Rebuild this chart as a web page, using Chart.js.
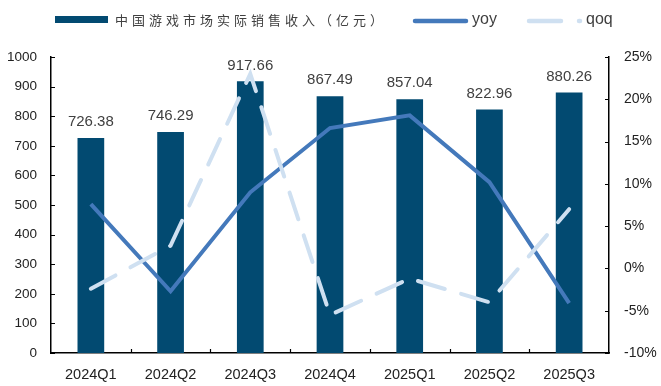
<!DOCTYPE html>
<html lang="zh-CN">
<head>
<meta charset="UTF-8">
<title>中国游戏市场实际销售收入</title>
<script src="https://cdn.jsdelivr.net/npm/chart.js"></script>
<style>
    html, body { margin: 0; padding: 0; background: #fff; }
    #wrap { width: 661px; height: 386px; }
</style>
</head>
<body>
<div id="wrap"><canvas id="chart" width="661" height="386"></canvas></div>
<script>
// data
const quarters = ['2024Q1', '2024Q2', '2024Q3', '2024Q4', '2025Q1', '2025Q2', '2025Q3'];
const revenue = [726.38, 746.29, 917.66, 867.49, 857.04, 822.96, 880.26];
const yoy = [7.6, -2.7, 9.0, 16.6, 18.1, 10.2, -4.1];
const qoq = [-2.4, 2.7, 23.0, -5.5, -1.2, -4.0, 7.0];
const leftTicks = [0, 100, 200, 300, 400, 500, 600, 700, 800, 900, 1000];
const rightTicks = [-10, -5, 0, 5, 10, 15, 20, 25];
const seriesNames = ['中国游戏市场实际销售收入（亿元）', 'yoy', 'qoq'];

const barColor = '#024a71';
const yoyColor = '#4479bb';
const qoqColor = '#cfe0f1';
const textColor = '#404040';

// value labels above the bars
const barLabels = {
    id: 'barLabels',
    afterDatasetsDraw(chart) {
        const ctx = chart.ctx;
        const meta = chart.getDatasetMeta(0);
        ctx.save();
        ctx.font = '15px "Liberation Sans", Arial, sans-serif';
        ctx.fillStyle = textColor;
        ctx.textAlign = 'center';
        ctx.textBaseline = 'middle';
        meta.data.forEach(function (bar, i) {
            ctx.fillText(revenue[i].toFixed(2), bar.x, bar.y - 16);
        });
        ctx.restore();
    }
};

// short inward tick marks on the three axes
const innerTicks = {
    id: 'innerTicks',
    afterDraw(chart) {
        const ctx = chart.ctx;
        const a = chart.chartArea;
        const x = chart.scales.x, yl = chart.scales.y, yr = chart.scales.y1;
        ctx.save();
        ctx.strokeStyle = '#000';
        ctx.lineWidth = 1.2;
        ctx.beginPath();
        yl.ticks.forEach(function (t) {
            const py = Math.round(yl.getPixelForValue(t.value)) + 0.5;
            ctx.moveTo(a.left, py); ctx.lineTo(a.left + 4, py);
        });
        yr.ticks.forEach(function (t) {
            const py = Math.round(yr.getPixelForValue(t.value)) + 0.5;
            ctx.moveTo(a.right, py); ctx.lineTo(a.right - 4, py);
        });
        for (let i = 0; i < quarters.length - 1; i++) {
            const px = Math.round((x.getPixelForTick(i) + x.getPixelForTick(i + 1)) / 2) + 0.5;
            ctx.moveTo(px, a.bottom); ctx.lineTo(px, a.bottom - 4);
        }
        ctx.stroke();
        ctx.restore();
    }
};

// legend drawn by hand so the chinese label can be spaced like the original
const topLegend = {
    id: 'topLegend',
    afterDraw(chart) {
        const ctx = chart.ctx;
        ctx.save();
        ctx.fillStyle = barColor;
        ctx.fillRect(55, 16, 53, 7);

        ctx.fillStyle = textColor;
        ctx.textBaseline = 'middle';
        ctx.font = '13px "Noto Sans CJK SC", sans-serif';
        ctx.letterSpacing = '4px';
        ctx.fillText(seriesNames[0], 115, 20);
        ctx.letterSpacing = '0px';

        ctx.lineCap = 'round';
        ctx.lineWidth = 4.5;
        ctx.strokeStyle = yoyColor;
        ctx.beginPath(); ctx.moveTo(415, 21); ctx.lineTo(466, 21); ctx.stroke();
        ctx.font = '16px "Liberation Sans", Arial, sans-serif';
        ctx.fillText(seriesNames[1], 472, 20);

        ctx.strokeStyle = qoqColor;
        ctx.beginPath(); ctx.moveTo(529, 21); ctx.lineTo(561, 21); ctx.stroke();
        ctx.beginPath(); ctx.moveTo(579, 21); ctx.lineTo(580, 21); ctx.stroke();
        ctx.fillText(seriesNames[2], 586, 20);
        ctx.restore();
    }
};

const axisFont = { family: '"Liberation Sans", Arial, sans-serif', size: 14 };

new Chart(document.getElementById('chart'), {
    type: 'bar',
    data: {
        labels: quarters,
        datasets: [
            {
                type: 'bar',
                label: seriesNames[0],
                data: revenue,
                backgroundColor: barColor,
                borderWidth: 0,
                barPercentage: 0.335,
                categoryPercentage: 1,
                yAxisID: 'y',
                order: 3
            },
            {
                type: 'line',
                label: seriesNames[1],
                data: yoy,
                borderColor: yoyColor,
                backgroundColor: yoyColor,
                borderWidth: 4,
                pointRadius: 0,
                tension: 0,
                borderJoinStyle: 'miter',
                yAxisID: 'y1',
                order: 2
            },
            {
                type: 'line',
                label: seriesNames[2],
                data: qoq,
                borderColor: qoqColor,
                backgroundColor: qoqColor,
                borderWidth: 4,
                borderDash: [28, 17],
                borderCapStyle: 'round',
                pointRadius: 0,
                tension: 0,
                yAxisID: 'y1',
                order: 1
            }
        ]
    },
    options: {
        responsive: false,
        animation: false,
        devicePixelRatio: 1,
        layout: { padding: { top: 57, left: 0, right: 0, bottom: 0 } },
        plugins: {
            legend: { display: false },
            tooltip: { enabled: false }
        },
        scales: {
            x: {
                offset: true,
                grid: { display: false, drawTicks: false },
                border: { display: true, color: '#000', width: 1.5 },
                ticks: { color: '#222', font: { family: axisFont.family, size: 14.5 }, padding: 13, maxRotation: 0 },
                afterFit(s) { s.height = 33; }
            },
            y: {
                position: 'left',
                min: 0,
                max: 1000,
                afterBuildTicks(s) { s.ticks = leftTicks.map(v => ({ value: v })); },
                grid: { display: false, drawTicks: false },
                border: { display: true, color: '#000', width: 1.5 },
                ticks: { color: '#222', font: { family: axisFont.family, size: 13.5 }, padding: 14, callback: v => String(v) },
                afterFit(s) { s.width = 51; }
            },
            y1: {
                position: 'right',
                min: -10,
                max: 25,
                afterBuildTicks(s) { s.ticks = rightTicks.map(v => ({ value: v })); },
                grid: { display: false, drawTicks: false },
                border: { display: true, color: '#000', width: 1.5 },
                ticks: { color: '#222', font: axisFont, padding: 15, callback: v => v + '%' },
                afterFit(s) { s.width = 52; }
            }
        }
    },
    plugins: [barLabels, innerTicks, topLegend]
});
</script>
</body>
</html>
